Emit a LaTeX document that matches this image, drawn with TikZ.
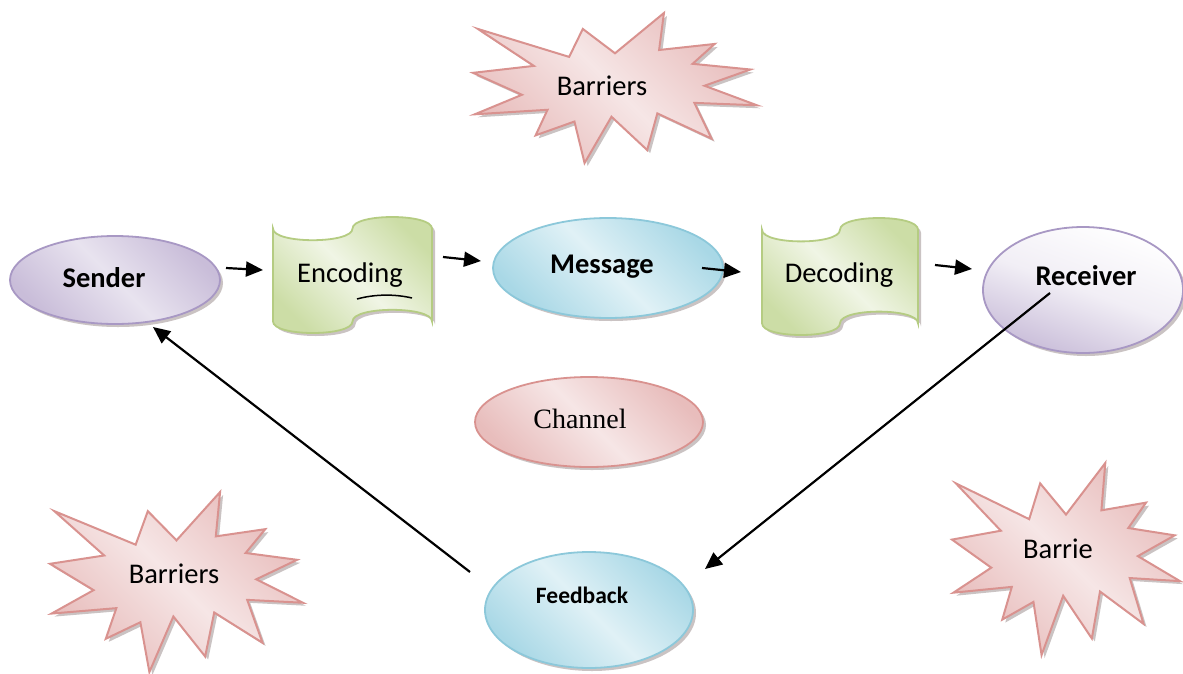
\documentclass[tikz,border=0pt]{standalone}
\usepackage{fontspec}
\setmainfont{Carlito}
\newfontfamily\timesfont{Liberation Serif}
\usetikzlibrary{shapes.geometric,shadows,arrows.meta}
\definecolor{pinkD}{HTML}{E8BDBC}
\definecolor{pinkL}{HTML}{F6E6E6}
\definecolor{pinkB}{HTML}{D9928F}
\definecolor{purD}{HTML}{C9BDD9}
\definecolor{purL}{HTML}{E8E3EF}
\definecolor{purB}{HTML}{A898C4}
\definecolor{bluD}{HTML}{A9D8E6}
\definecolor{bluL}{HTML}{E0F1F6}
\definecolor{bluB}{HTML}{8CC8DA}
\definecolor{grnD}{HTML}{CCDDA6}
\definecolor{grnL}{HTML}{F0F5E5}
\definecolor{grnB}{HTML}{B5CC82}
\definecolor{shad}{HTML}{8A7A7A}
\def\burstpts{(108,58) -- (145.22,0) -- (141.55,53.25) -- (183.80,44.57) -- (167.02,73.15) -- (210.97,81.37) -- (176.07,104.75) -- (216,132.90) -- (168.37,129.42) -- (181.45,180.95) -- (140.20,144.57) -- (132.47,197.37) -- (105.32,149.35) -- (84.85,216) -- (77.15,156.27) -- (47.62,176.17) -- (56.67,139.37) -- (1.35,145.87) -- (37.22,117.75) -- (0,86.15) -- (46.27,76.17) -- (3.70,22.95) -- (73.12,63.20) -- (83.52,22.95) -- cycle}
\newcommand\burst[4]{%
  \fill[shadowfill, shift={(#1+3,#2+3)}, xscale=#3/216, yscale=#4/216] \burstpts;
  \draw[burstfill, shift={(#1,#2)}, xscale=#3/216, yscale=#4/216] \burstpts;}
\newcommand\tapepath[4]{(#1,#2+0.1*#4) .. controls (#1,#2+0.2333*#4) and (#1+0.5*#3,#2+0.2333*#4) .. (#1+0.5*#3,#2+0.1*#4) .. controls (#1+0.5*#3,#2-0.0333*#4) and (#1+#3,#2-0.0333*#4) .. (#1+#3,#2+0.1*#4) -- (#1+#3,#2+0.9*#4) .. controls (#1+#3,#2+0.7667*#4) and (#1+0.5*#3,#2+0.7667*#4) .. (#1+0.5*#3,#2+0.9*#4) .. controls (#1+0.5*#3,#2+1.0333*#4) and (#1,#2+1.0333*#4) .. (#1,#2+0.9*#4) -- cycle}
\newcommand\tape[4]{%
  \fill[shadowfill, shift={(3,3)}] \tapepath{#1}{#2}{#3}{#4};
  \draw[tapefill] \tapepath{#1}{#2}{#3}{#4};}
\begin{document}
\begin{tikzpicture}[x=1pt,y={(0pt,-1pt)},
  shadowfill/.style={fill=shad, opacity=0.45},
  burstfill/.style={draw=pinkB, line width=2pt, line join=miter, top color=pinkD, bottom color=pinkD, middle color=pinkL, shading angle=-45},
  tapefill/.style={draw=grnB, line width=1.8pt, top color=grnD, bottom color=grnD, middle color=grnL, shading angle=-45},
  oval/.style={ellipse, inner sep=0pt, line width=1.8pt, drop shadow={shadow xshift=3pt, shadow yshift=-3pt, fill=shad, opacity=0.45}},
  purpleoval/.style={oval, draw=purB, top color=purD, bottom color=purD, middle color=purL, shading angle=-45},
  blueoval/.style={oval, draw=bluB, top color=bluD, bottom color=bluD, middle color=bluL, shading angle=-45},
  pinkoval/.style={oval, draw=pinkB, top color=pinkD, bottom color=pinkD, middle color=pinkL, shading angle=-45},
  whiteoval/.style={oval, draw=purB, top color=white, bottom color=purD, middle color=purL!60, shading angle=-20},
  lbl/.style={anchor=base, inner sep=0pt, font=\fontsize{28.5}{34}\selectfont},
  blbl/.style={lbl, font=\fontsize{28.5}{34}\selectfont\bfseries},
  arr/.style={line width=2.2pt, -{Triangle[length=17pt,width=15pt]}}]
\useasboundingbox[fill=white] (0,0) rectangle (1183,673);

% barriers
\burst{473}{13}{284}{150}
\burst{50}{492}{253}{180}
\burst{952}{463}{228}{192}
\node[lbl] (bartop) at (602,95) {Barriers};
\node[lbl] (barleft) at (174,583) {Barriers};
\node[lbl] (barright) at (1058,558) {Barrie};

% tapes
\tape{273}{217}{159}{116}
\tape{762}{218}{156}{117}
\node[lbl] (enc) at (350,282) {Encoding};
\node[lbl] (dec) at (839,282) {Decoding};
\draw[line width=1.5pt] (357,299) .. controls (375,294) and (395,294) .. (412,298);

% ovals
\node[purpleoval, minimum width=210pt, minimum height=88pt] (sender) at (115,280) {};
\node[blueoval, minimum width=230pt, minimum height=100pt] (message) at (608,268) {};
\node[whiteoval, minimum width=200pt, minimum height=126pt] (receiver) at (1083,290) {};
\node[pinkoval, minimum width=228pt, minimum height=90pt] (channel) at (589,422) {};
\node[blueoval, minimum width=208pt, minimum height=116pt] (feedback) at (589,610) {};

\node[blbl] (sendertxt) at (104,287) {Sender};
\node[blbl] (messagetxt) at (602,273) {Message};
\node[blbl] (receivertxt) at (1086,285) {Receiver};
\node[lbl, font=\fontsize{28}{34}\timesfont] (channeltxt) at (580,428) {Channel};
\node[lbl, font=\fontsize{23.5}{28}\selectfont\bfseries] (feedbacktxt) at (582,603) {Feedback};

% arrows
\coordinate (a1s) at (226,268);
\coordinate (a1e) at (263,270);
\coordinate (a2s) at (443,257);
\coordinate (a2e) at (481,261);
\coordinate (a3s) at (702,268);
\coordinate (a3e) at (741,272);
\coordinate (a4s) at (935,265);
\coordinate (a4e) at (972,269);
\coordinate (a5s) at (1050,293);
\coordinate (a5e) at (705,569);
\coordinate (a6s) at (470,572);
\coordinate (a6e) at (153,327);
\draw[arr] (a1s) -- (a1e);
\draw[arr] (a2s) -- (a2e);
\draw[arr] (a3s) -- (a3e);
\draw[arr] (a4s) -- (a4e);
\draw[arr] (a5s) -- (a5e);
\draw[arr] (a6s) -- (a6e);
\end{tikzpicture}
\end{document}
